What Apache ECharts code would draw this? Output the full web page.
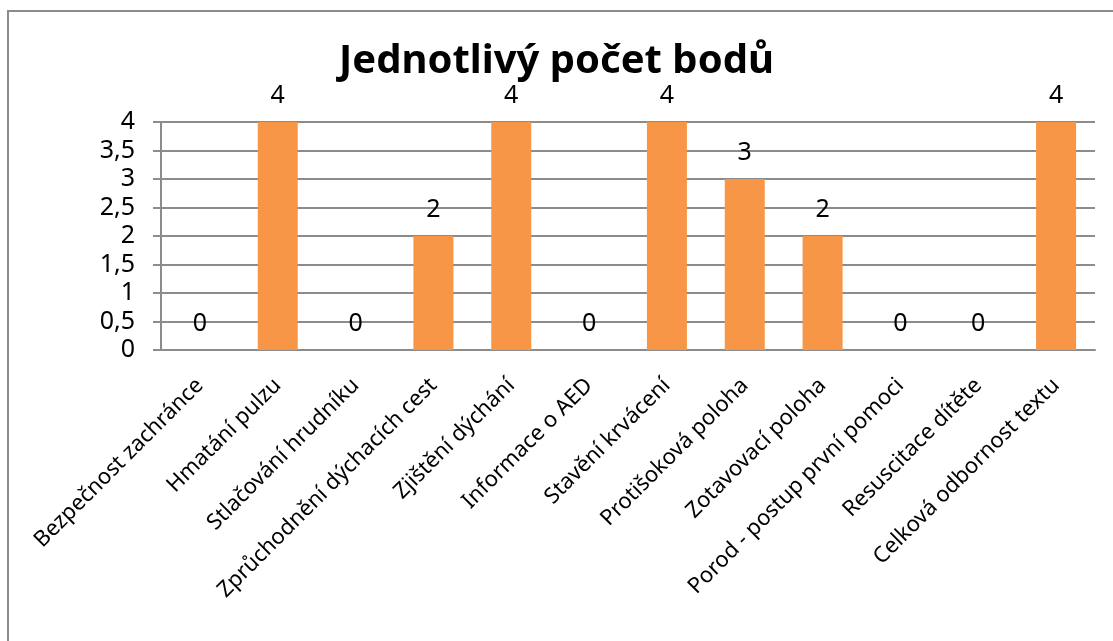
<!DOCTYPE html>
<html>
<head>
<meta charset="utf-8">
<script src="https://cdn.jsdelivr.net/npm/echarts@6/dist/echarts.min.js"></script>
<style>
  html, body { margin: 0; padding: 0; background: #fff; }
  #frame { position: absolute; left: 7px; top: 10px; width: 1200px; height: 700px;
           border-left: 2px solid #8c8c8c; border-top: 2px solid #8c8c8c; }
  #chart { position: absolute; left: 0; top: 0; width: 1113px; height: 641px; }
</style>
</head>
<body>
<div id="frame"></div>
<div id="chart"></div>
<script>
// kategorie a body
var categories = ['Bezpečnost zachránce', 'Hmatání pulzu', 'Stlačování hrudníku',
  'Zprůchodnění dýchacích cest', 'Zjištění dýchání', 'Informace o AED',
  'Stavění krvácení', 'Protišoková poloha', 'Zotavovací poloha',
  'Porod - postup první pomoci', 'Resuscitace dítěte', 'Celková odbornost textu'];
var points = [0, 4, 0, 2, 4, 0, 4, 3, 2, 0, 0, 4];
var titleText = 'Jednotlivý počet bodů';

var font = 'Noto Sans';
var myChart = echarts.init(document.getElementById('chart'));
myChart.setOption({
  animation: false,
  title: {
    text: titleText,
    left: 'center',
    top: 42,
    padding: [0, 0, 0, 28],
    textStyle: { fontFamily: font, fontSize: 40, fontWeight: 'bold', color: '#000' }
  },
  grid: { left: 161, right: 18, top: 122, bottom: 291 },
  xAxis: {
    type: 'category',
    data: categories,
    axisLine: { lineStyle: { color: '#8c8c8c', width: 2 } },
    axisTick: { length: 8, lineStyle: { color: '#8c8c8c', width: 2 } },
    axisLabel: { rotate: 45, margin: 32, interval: 0, color: '#000', fontFamily: font, fontSize: 22 }
  },
  yAxis: {
    type: 'value',
    min: 0,
    max: 4,
    interval: 0.5,
    axisLine: { show: true, lineStyle: { color: '#8c8c8c', width: 2 } },
    axisTick: { show: true, length: 8, lineStyle: { color: '#8c8c8c', width: 2 } },
    splitLine: { lineStyle: { color: '#8c8c8c', width: 2 } },
    axisLabel: {
      margin: 26, color: '#000', fontFamily: font, fontSize: 25,
      formatter: function (v) { return String(v).replace('.', ','); }
    }
  },
  series: [{
    type: 'bar',
    data: points,
    barWidth: 40,
    itemStyle: { color: '#F79646' },
    label: { show: true, position: 'top', distance: 14, color: '#000', fontFamily: font, fontSize: 25 }
  }]
});
</script>
</body>
</html>
